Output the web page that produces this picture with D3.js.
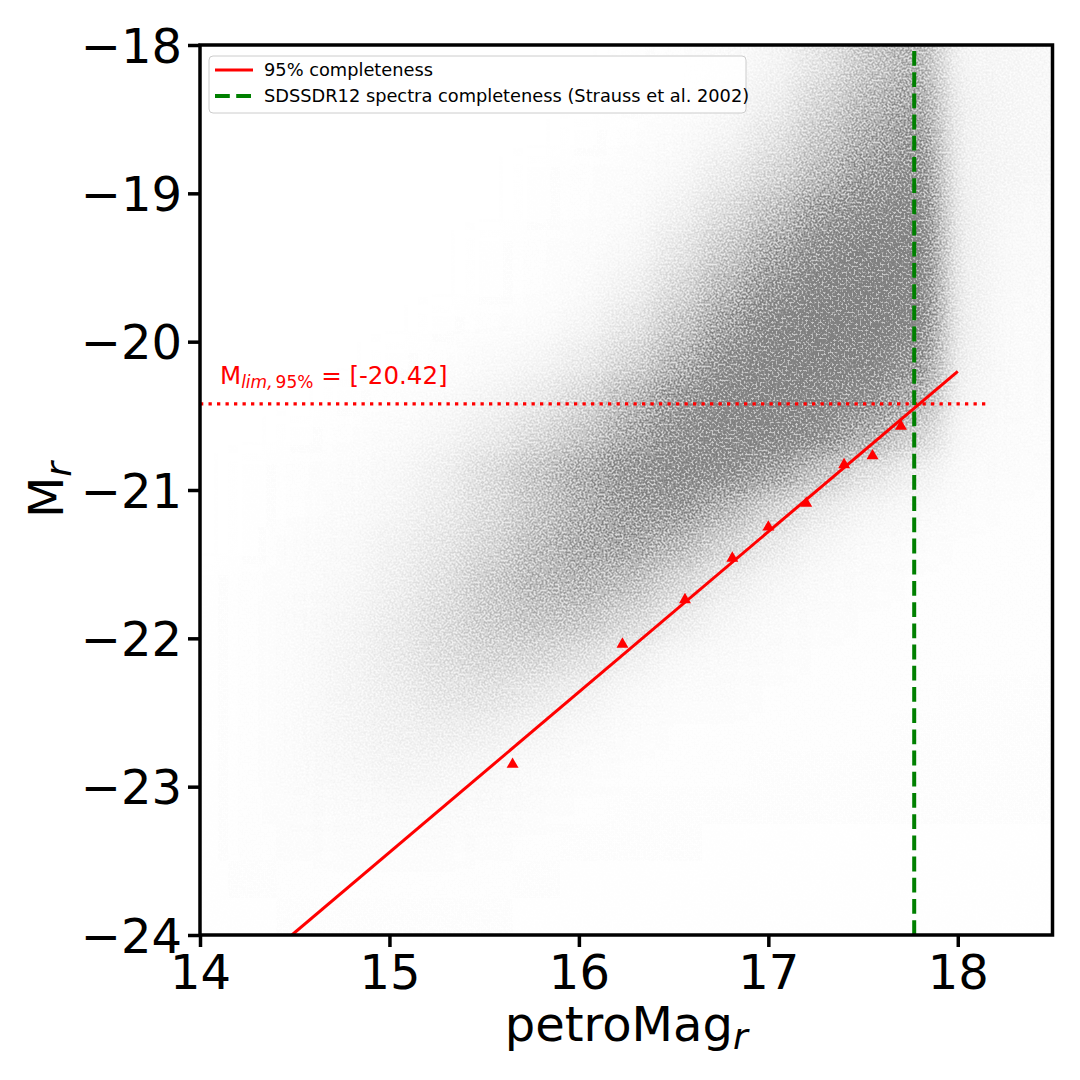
<!DOCTYPE html>
<html>
<head>
<meta charset="utf-8">
<script src="https://cdn.jsdelivr.net/npm/d3@7"></script>
<style>
  html, body { margin: 0; padding: 0; background: #fff; }
  svg { display: block; }
  text { font-family: "DejaVu Sans", sans-serif; }
</style>
</head>
<body>
<svg id="chart" width="1080" height="1080"></svg>
<script>
// ---------------- DATA ----------------
const xTicks = [14, 15, 16, 17, 18];
const yTicks = [-18, -19, -20, -21, -22, -23, -24];

// density of the galaxy cloud (0 = empty, 1 = saturated grey)
const cloudXEdges = [13.9, 14.15, 14.4, 14.65, 14.9, 15.15, 15.4, 15.65, 15.9, 16.15, 16.4,
                     16.65, 16.9, 17.15, 17.4, 17.65, 17.9, 18.15, 18.4, 18.65];
const cloudYEdges = [-18, -18.25, -18.5, -18.75, -19, -19.25, -19.5, -19.75, -20, -20.25, -20.5,
                     -20.75, -21, -21.25, -21.5, -21.75, -22, -22.25, -22.5, -22.75, -23,
                     -23.25, -23.5, -23.75, -24];
const cloudDensity = [
  [0,0,0,0,0,0,0,0,0,0.01,0.02,0.04,0.08,0.2,0.4,0.55,0.08,0.07,0.06],
  [0,0,0,0,0,0,0,0,0,0.01,0.02,0.05,0.12,0.3,0.5,0.65,0.1,0.07,0.06],
  [0,0,0,0,0,0,0,0,0.01,0.02,0.04,0.08,0.2,0.4,0.6,0.75,0.1,0.07,0.06],
  [0,0,0,0,0,0,0,0.01,0.02,0.03,0.06,0.15,0.3,0.5,0.72,0.85,0.1,0.07,0.06],
  [0,0,0,0,0,0,0,0.01,0.02,0.04,0.1,0.25,0.45,0.7,0.85,0.92,0.12,0.06,0.05],
  [0,0,0,0,0,0,0.01,0.02,0.03,0.06,0.18,0.38,0.62,0.85,0.95,0.95,0.12,0.05,0.05],
  [0,0,0,0,0,0,0.01,0.02,0.04,0.1,0.28,0.52,0.78,0.95,1,0.95,0.12,0.05,0.04],
  [0,0,0,0,0,0.01,0.02,0.03,0.07,0.18,0.4,0.68,0.9,1,1,0.92,0.12,0.04,0.04],
  [0,0,0,0,0.01,0.02,0.04,0.07,0.15,0.3,0.55,0.82,0.95,0.98,0.95,0.8,0.1,0.04,0.03],
  [0,0,0,0.01,0.02,0.04,0.08,0.15,0.28,0.5,0.75,0.92,0.95,0.92,0.85,0.6,0.08,0.04,0.03],
  [0,0,0.01,0.02,0.04,0.07,0.14,0.26,0.42,0.62,0.82,0.92,0.92,0.85,0.6,0.35,0.06,0.03,0.03],
  [0,0.01,0.02,0.03,0.06,0.12,0.25,0.42,0.6,0.78,0.88,0.85,0.7,0.45,0.22,0.12,0.04,0.03,0.02],
  [0,0.01,0.02,0.04,0.07,0.14,0.26,0.42,0.58,0.72,0.75,0.55,0.32,0.16,0.08,0.05,0.03,0.02,0.02],
  [0,0.01,0.03,0.05,0.1,0.18,0.3,0.48,0.62,0.65,0.52,0.32,0.16,0.07,0.04,0.03,0.02,0.02,0.02],
  [0.01,0.02,0.03,0.06,0.12,0.22,0.38,0.5,0.55,0.48,0.3,0.14,0.07,0.04,0.03,0.02,0.02,0.02,0.02],
  [0.01,0.02,0.04,0.07,0.14,0.25,0.36,0.43,0.42,0.3,0.15,0.07,0.04,0.03,0.02,0.02,0.02,0.02,0.02],
  [0.01,0.02,0.04,0.08,0.15,0.24,0.3,0.3,0.24,0.12,0.06,0.04,0.03,0.02,0.02,0.02,0.02,0.02,0.02],
  [0.01,0.02,0.04,0.08,0.13,0.19,0.21,0.17,0.1,0.05,0.03,0.03,0.02,0.02,0.02,0.02,0.015,0.015,0.015],
  [0.01,0.02,0.04,0.07,0.1,0.13,0.12,0.08,0.05,0.03,0.02,0.02,0.02,0.02,0.02,0.015,0.015,0.015,0.015],
  [0.01,0.02,0.04,0.06,0.08,0.08,0.06,0.04,0.03,0.02,0.02,0.02,0.015,0.015,0.015,0.015,0.015,0.015,0.015],
  [0.01,0.02,0.03,0.04,0.05,0.05,0.04,0.03,0.02,0.015,0.015,0.015,0.015,0.015,0.015,0.015,0.015,0.015,0.015],
  [0.01,0.02,0.025,0.03,0.03,0.03,0.025,0.02,0.015,0.015,0.015,0.012,0.012,0.012,0.012,0.012,0.012,0.012,0.012],
  [0.01,0.015,0.02,0.02,0.02,0.02,0.02,0.015,0.012,0.012,0.012,0.012,0.012,0.012,0.012,0.012,0.012,0.012,0.012],
  [0.01,0.012,0.015,0.015,0.015,0.015,0.015,0.012,0.012,0.012,0.01,0.01,0.01,0.01,0.01,0.01,0.01,0.01,0.01]
];

// 95% completeness points (red triangles)
const complMag = [15.65, 16.23, 16.56, 16.81, 17.00, 17.20, 17.40, 17.55, 17.70];
const complMr  = [-22.85, -22.04, -21.74, -21.46, -21.25, -21.09, -20.83, -20.77, -20.57];

// 95% completeness fit line (end points)
const fitMag = [14.485, 18.0];
const fitMr  = [-24.0, -20.2];

// limits
const mLim = -20.42;
const mLimLineEnd = 18.16;
const spectraLimit = 17.77;
const mLimLabel = "[-20.42]";

const legendLabels = ["95% completeness", "SDSSDR12 spectra completeness (Strauss et al. 2002)"];

// ---------------- CHART ----------------
const svg = d3.select("#chart");
const W = 1080, H = 1080;
const margin = {left: 200, top: 45, right: 1080 - 1052.5, bottom: 1080 - 935};

const x = d3.scaleLinear().domain([14, 18.5]).range([margin.left, W - margin.right]);
const y = d3.scaleLinear().domain([-18, -24]).range([margin.top, H - margin.bottom]);

svg.append("rect").attr("width", W).attr("height", H).attr("fill", "#fff");

const defs = svg.append("defs");
defs.append("clipPath").attr("id", "plotClip")
  .append("rect")
  .attr("x", x(14)).attr("y", y(-18))
  .attr("width", x(18.5) - x(14)).attr("height", y(-24) - y(-18));

const f = defs.append("filter").attr("id", "cloudFilter")
  .attr("filterUnits", "userSpaceOnUse")
  .attr("x", 0).attr("y", 0).attr("width", W).attr("height", H)
  .attr("color-interpolation-filters", "sRGB");
f.append("feGaussianBlur").attr("in", "SourceGraphic").attr("stdDeviation", "15 12").attr("result", "b");
f.append("feTurbulence").attr("type", "fractalNoise").attr("baseFrequency", "0.5")
  .attr("numOctaves", 2).attr("seed", 7).attr("result", "t");
f.append("feColorMatrix").attr("in", "t").attr("type", "matrix")
  .attr("values", "0 0 0 0 1  0 0 0 0 1  0 0 0 0 1  2.8 0 0 0 -0.9").attr("result", "n");
f.append("feComposite").attr("in", "b").attr("in2", "n").attr("operator", "arithmetic")
  .attr("k1", 0.7).attr("k2", 0.3).attr("k3", 0).attr("k4", 0).attr("result", "g");
const ct = f.append("feComponentTransfer").attr("in", "g");
ct.append("feFuncA").attr("type", "linear").attr("slope", 1.55).attr("intercept", 0);

// cloud cells
const cells = [];
cloudDensity.forEach((row, j) => {
  row.forEach((v, i) => {
    cells.push({x0: cloudXEdges[i], x1: cloudXEdges[i + 1], y0: cloudYEdges[j], y1: cloudYEdges[j + 1], v, j});
  });
});
const nRows = cloudDensity.length;
const plot = svg.append("g").attr("clip-path", "url(#plotClip)");
plot.append("g").attr("filter", "url(#cloudFilter)")
  .selectAll("rect").data(cells).join("rect")
  .attr("x", d => x(d.x0))
  .attr("width", d => x(d.x1) - x(d.x0))
  .attr("y", d => y(d.y0) - (d.j === 0 ? 40 : 0))
  .attr("height", d => y(d.y1) - y(d.y0) + (d.j === 0 ? 40 : 0) + (d.j === nRows - 1 ? 40 : 0))
  .attr("fill", "#808080")
  .attr("fill-opacity", d => d.v)
  .attr("shape-rendering", "crispEdges");

// M_lim dotted line
plot.append("line")
  .attr("x1", x(14)).attr("x2", x(mLimLineEnd))
  .attr("y1", y(mLim)).attr("y2", y(mLim))
  .attr("stroke", "red").attr("stroke-width", 3.3)
  .attr("stroke-dasharray", "3.3,5.2");

// spectra completeness vertical dashed line (drawn from bottom up)
plot.append("line")
  .attr("x1", x(spectraLimit)).attr("x2", x(spectraLimit))
  .attr("y1", y(-24)).attr("y2", y(-18))
  .attr("stroke", "green").attr("stroke-width", 4)
  .attr("stroke-dasharray", "14.8,6.4");

// fit line
const fitData = fitMag.map((m, i) => [m, fitMr[i]]);
plot.append("path")
  .datum(fitData)
  .attr("d", d3.line().x(d => x(d[0])).y(d => y(d[1])))
  .attr("stroke", "red").attr("stroke-width", 3).attr("fill", "none");

// triangles
const tri = d3.symbol().type(d3.symbolTriangle).size(62);
plot.selectAll("path.tri").data(complMag.map((m, i) => [m, complMr[i]])).join("path")
  .attr("class", "tri")
  .attr("d", tri)
  .attr("transform", d => `translate(${x(d[0])},${y(d[1])})`)
  .attr("fill", "red");

// M_lim label
const lab = svg.append("text")
  .attr("x", x(14) + 20).attr("y", y(mLim) - 20)
  .attr("fill", "red").attr("font-size", 24.5);
lab.append("tspan").text("M");
lab.append("tspan").attr("font-size", 17).attr("font-style", "italic").attr("dy", 4).text("lim,");
lab.append("tspan").attr("font-size", 17).attr("dx", 3).text("95%");
lab.append("tspan").attr("dy", -4).text(" = " + mLimLabel);

// legend
const lg = svg.append("g");
lg.append("rect")
  .attr("x", 209).attr("y", 56).attr("width", 537).attr("height", 57)
  .attr("rx", 4).attr("ry", 4)
  .attr("fill", "white").attr("fill-opacity", 0.8)
  .attr("stroke", "#cccccc").attr("stroke-width", 1);
lg.append("line").attr("x1", 215).attr("x2", 253).attr("y1", 70).attr("y2", 70)
  .attr("stroke", "red").attr("stroke-width", 3);
lg.append("line").attr("x1", 215).attr("x2", 253).attr("y1", 96).attr("y2", 96)
  .attr("stroke", "green").attr("stroke-width", 4).attr("stroke-dasharray", "14.8,6.4");
lg.selectAll("text").data(legendLabels).join("text")
  .attr("x", 264).attr("y", (d, i) => 76 + i * 26)
  .attr("font-size", 17.8).attr("fill", "#000")
  .text(d => d);

// spines
svg.append("rect")
  .attr("x", x(14)).attr("y", y(-18))
  .attr("width", x(18.5) - x(14)).attr("height", y(-24) - y(-18))
  .attr("fill", "none").attr("stroke", "#000").attr("stroke-width", 3.5);

// axes
const fmt = v => (v < 0 ? "\u2212" + Math.abs(v) : String(v));
const xAxis = d3.axisBottom(x).tickValues(xTicks).tickFormat(fmt).tickSize(12).tickPadding(10);
const yAxis = d3.axisLeft(y).tickValues(yTicks).tickFormat(fmt).tickSize(12).tickPadding(6);

const gx = svg.append("g").attr("transform", `translate(0,${y(-24)})`).call(xAxis);
const gy = svg.append("g").attr("transform", `translate(${x(14)},0)`).call(yAxis);
[gx, gy].forEach(g => {
  g.select(".domain").remove();
  g.selectAll(".tick line").attr("stroke", "#000").attr("stroke-width", 3.5);
  g.selectAll(".tick text").attr("font-size", 48).attr("fill", "#000")
    .attr("font-family", "DejaVu Sans, sans-serif");
});
gx.selectAll(".tick text").attr("dy", null).attr("y", 54);
gy.selectAll(".tick text").attr("dy", "0.36em");

// axis labels
const xl = svg.append("text")
  .attr("x", (x(14) + x(18.5)) / 2).attr("y", 1041)
  .attr("text-anchor", "middle").attr("font-size", 48).attr("fill", "#000");
xl.append("tspan").text("petroMag");
xl.append("tspan").attr("font-size", 36).attr("font-style", "italic").attr("dy", 8).text("r");

const yl = svg.append("text")
  .attr("transform", `translate(63,${(y(-18) + y(-24)) / 2}) rotate(-90)`)
  .attr("text-anchor", "middle").attr("font-size", 48).attr("fill", "#000");
yl.append("tspan").text("M");
yl.append("tspan").attr("font-size", 36).attr("font-style", "italic").attr("dy", 8).text("r");
</script>
</body>
</html>
